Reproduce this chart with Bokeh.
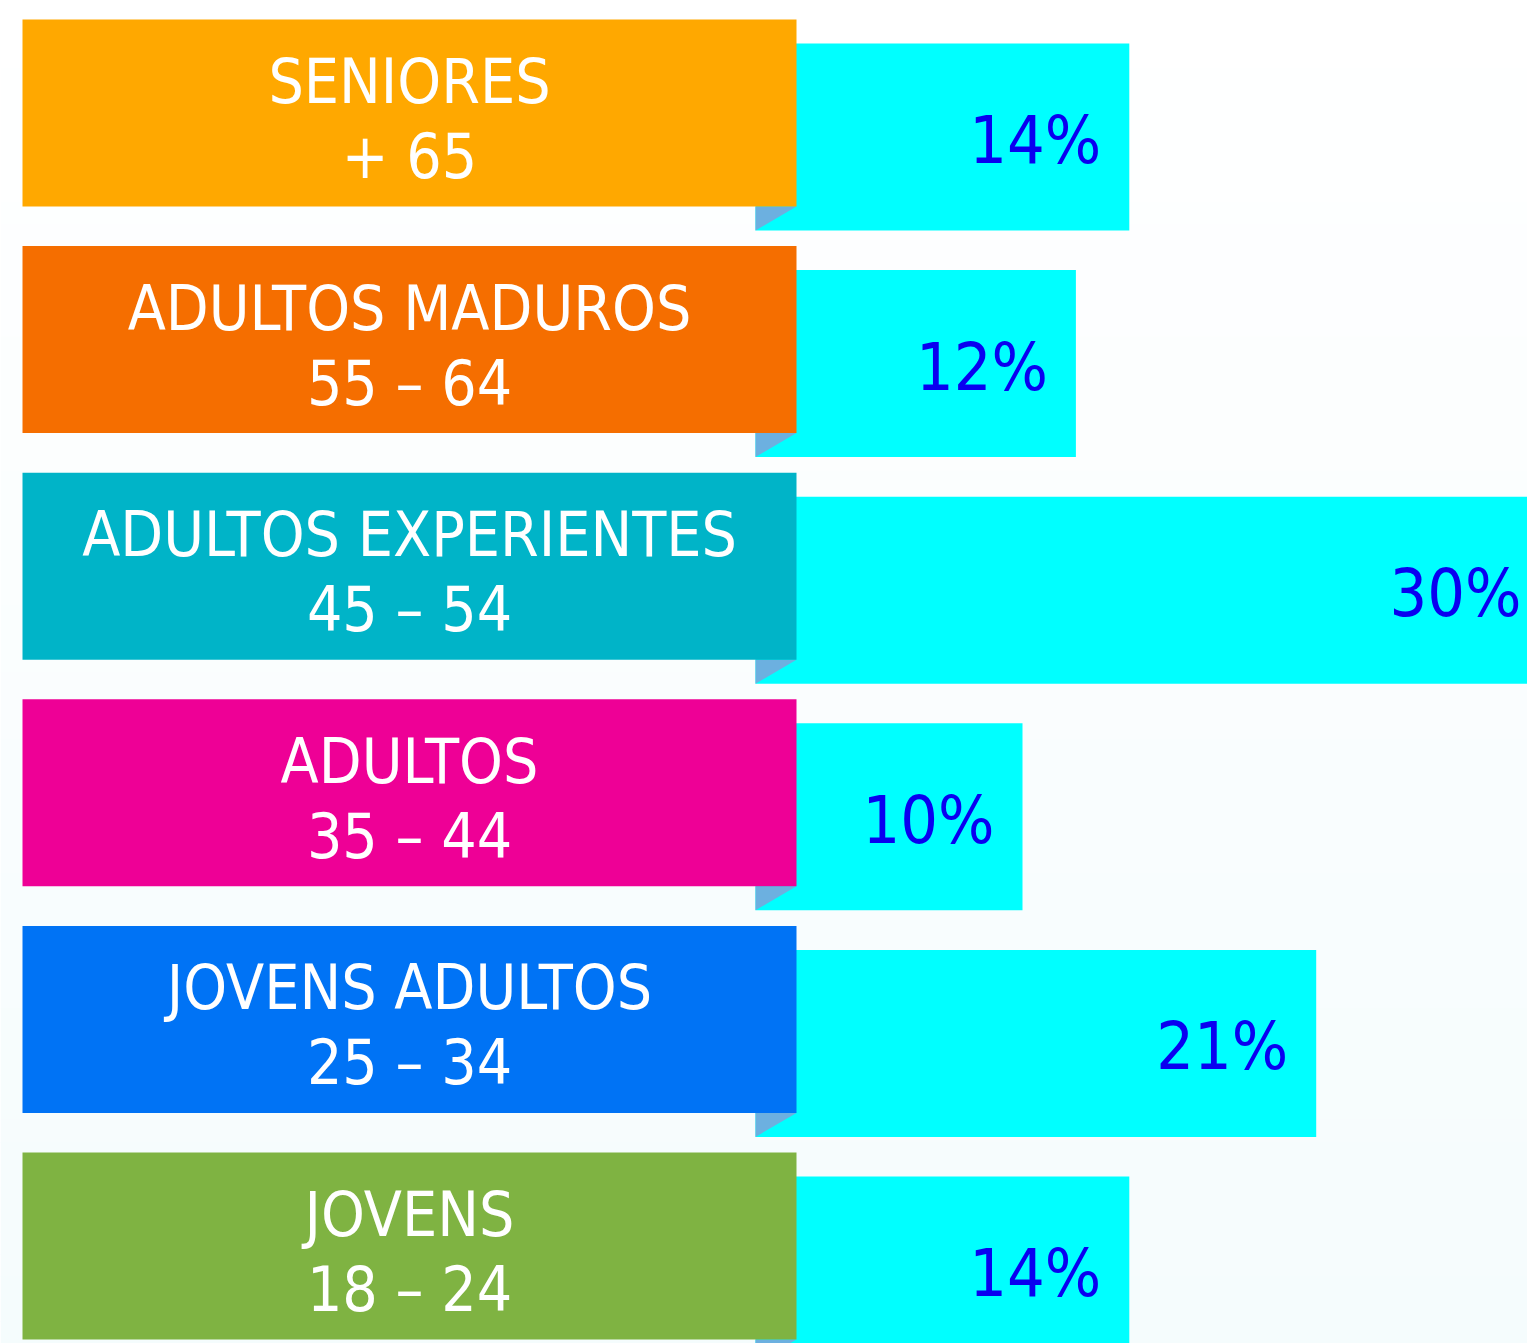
from bokeh.plotting import figure
from bokeh.models import Range1d, ColumnDataSource
from bokeh.core.properties import value
from bokeh.embed import file_html
from bokeh.resources import INLINE

# ---- data ----
groups = ["SENIORES", "ADULTOS MADUROS", "ADULTOS EXPERIENTES", "ADULTOS", "JOVENS ADULTOS", "JOVENS"]
ages = ["+ 65", "55 – 64", "45 – 54", "35 – 44", "25 – 34", "18 – 24"]
shares = [14, 12, 30, 10, 21, 14]
box_colors = ["#FFA800", "#F56E00", "#00B4C8", "#EE0096", "#0073F5", "#7FB342"]

# ---- layout constants (pixels) ----
W, H = 1527, 1343
X0 = 755.0          # pixel where bars start (value 0)
PPU = 26.7          # pixels per percent
PITCH = 226.6
TOP0 = 19.0
BOX_H = 187.0
BAR_OFF = 24.0

def px(xpix):
    return (xpix - X0) / PPU

FONT = value("DejaVu Sans Condensed")

p = figure(width=W, height=H, output_backend="svg", toolbar_location=None,
           x_range=Range1d(px(0), px(W)), y_range=Range1d(H, 0),
           min_border=0, border_fill_color="white", background_fill_color="white",
           outline_line_color=None)
p.axis.visible = False
p.grid.visible = False

# subtle background gradient (white -> very light cyan)
n = 60
tops, bots, cols = [], [], []
for k in range(n):
    t = k / (n - 1)
    r = int(round(255 - t * 10))
    g = int(round(255 - t * 3))
    b = int(round(255 - t * 2))
    tops.append(k * H / n)
    bots.append((k + 1) * H / n + 1)
    cols.append("#%02x%02x%02x" % (r, g, b))
p.quad(left=px(0), right=px(W), top=tops, bottom=bots, fill_color=cols, line_color=None)

rows = list(range(len(groups)))
box_top = [TOP0 + i * PITCH for i in rows]
box_bot = [t + BOX_H for t in box_top]
bar_top = [t + BAR_OFF for t in box_top]
bar_bot = [t + BAR_OFF for t in box_bot]

xmax_lab = px(W - 6)
src = ColumnDataSource(dict(
    share=shares, zero=[0] * len(rows), bar_top=bar_top, bar_bot=bar_bot,
    box_top=box_top, box_bot=box_bot, color=box_colors,
    box_l=[px(22)] * len(rows), box_r=[px(796)] * len(rows),
    label=[f"{v}%" for v in shares],
    lab_x=[min(v - 28 / PPU, xmax_lab) for v in shares],
    lab_y=[t + 121 for t in box_top],
    g=groups, a=ages,
    cx=[px(409)] * len(rows),
    y1=[t + 62 for t in box_top], y2=[t + 137 for t in box_top],
))

# cyan bars
p.quad(left="zero", right="share", top="bar_top", bottom="bar_bot", source=src,
       fill_color="#00FFFF", line_color=None)

# fold triangles
xs = [[px(755), px(796), px(755)] for _ in rows]
ys = [[b, b, b + BAR_OFF] for b in box_bot]
p.patches(xs, ys, fill_color="#6CB0E0", line_color=None)

# label boxes
p.quad(left="box_l", right="box_r", top="box_top", bottom="box_bot", source=src,
       fill_color="color", line_color=None)

p.text(x="cx", y="y1", text="g", source=src, text_color="white", text_font=FONT,
       text_font_size="62px", text_align="center", text_baseline="middle")
p.text(x="cx", y="y2", text="a", source=src, text_color="white", text_font=FONT,
       text_font_size="62px", text_align="center", text_baseline="middle")

p.text(x="lab_x", y="lab_y", text="label", source=src, text_color="#0A00F0", text_font=FONT,
       text_font_size="66px", text_align="right", text_baseline="middle")

open("out.html", "w").write(file_html(p, INLINE))
